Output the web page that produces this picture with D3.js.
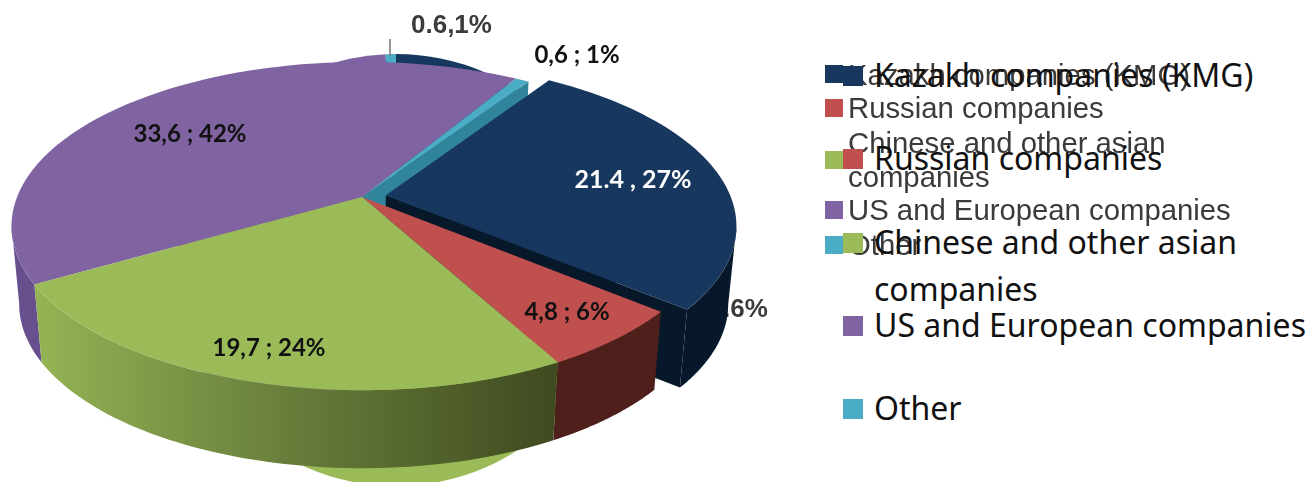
<!DOCTYPE html>
<html>
<head>
  <title>Oil production by company group</title>
  <style>
    html, body { margin: 0; background: #fff; }
    svg { display: block; }
    .lbl { font-family: Lato, sans-serif; font-weight: 700; font-size: 24px; fill: #111; text-anchor: middle; }
    .old { font-family: "Liberation Sans", sans-serif; fill: #3a3a3a; filter: url(#soft); }
    .leg { font-family: "Noto Sans", sans-serif; font-size: 32px; fill: #111; }
  </style>
</head>
<body>
  <svg id="chart" width="1310" height="482"></svg>

  <script src="https://d3js.org/d3.v7.min.js"></script>
  <script>
    // data
    const categories = ["Kazakh companies (KMG)", "Russian companies", "Chinese and other asian companies", "US and European companies", "Other"];
    const values = [21.4, 4.8, 19.7, 33.6, 0.6];
    const sliceLabels = ["21.4 , 27%", "4,8 ; 6%", "19,7 ; 24%", "33,6 ; 42%", "0,6 ; 1%"];
    const topColors = ["#17375e", "#c0504d", "#9bbb59", "#8064a2", "#4bacc6"];
    const wallColors = ["#08182b", "#4f1f1c", "#5f7535", "#68508f", "#31859b"];
    const oldLegendLines = ["Kazakh companies (KMG)", "Russian companies", "Chinese and other asian", "companies", "US and European companies", "Other"];
    const newLegendLines = [["Kazakh companies (KMG)"], ["Russian companies"], ["Chinese and other asian", "companies"], ["US and European companies"], ["Other"]];

    const svg = d3.select("#chart");
    const defs = svg.append("defs");
    defs.append("filter").attr("id", "soft").append("feGaussianBlur").attr("stdDeviation", 0.7);

    // green wall goes dark toward the right
    const grad = defs.append("linearGradient").attr("id", "greenWall")
      .attr("gradientUnits", "userSpaceOnUse").attr("x1", 40).attr("x2", 556).attr("y1", 0).attr("y2", 0);
    grad.append("stop").attr("offset", 0).attr("stop-color", "#93b354");
    grad.append("stop").attr("offset", 0.4).attr("stop-color", "#6f863f");
    grad.append("stop").attr("offset", 1).attr("stop-color", "#3f4a20");

    // pie angles, navy slice starts about 33 degrees past the top
    const pie = d3.pie().sort(null).startAngle(0.587).endAngle(0.587 + 2 * Math.PI);
    const arcs = pie(values);

    // perspective tilt of the disc
    const cx = 362, cy = 197, rx = 345, ry = 159, k = 0.177;
    const depth = 78, shrink = 0.978, explode = 0.07;

    function project(angle, radius, i) {
      let u = radius * Math.sin(angle), v = -radius * Math.cos(angle);
      if (i === 0) { u += explode * 0.988; v -= explode * 0.156; }
      const w = 1 - k * v;
      return [cx + rx * u / w, cy + ry * v / w];
    }
    const drop = p => [cx + (p[0] - cx) * shrink, p[1] + depth];
    const line = d3.line();
    const rimAngles = (a, b) => d3.range(0, 61).map(t => a + (b - a) * t / 60);

    function topPath(d, i) {
      const pts = rimAngles(d.startAngle, d.endAngle).map(a => project(a, 1, i));
      return line([project(0, 0, i), ...pts]) + "Z";
    }
    function rimWall(a, b, i) {
      const pts = rimAngles(a, b).map(t => project(t, 1, i));
      return line([...pts, ...pts.slice().reverse().map(drop)]) + "Z";
    }
    function cutWall(angle, i) {
      const a = project(0, 0, i), b = project(angle, 1, i);
      return line([a, b, drop(b), drop(a)]) + "Z";
    }
    // outline of a wall stops where the rim turns back, at the far left and far right
    function turnAngle(d, i, sign) {
      const ang = rimAngles(d.startAngle, d.endAngle);
      return ang[d3.greatestIndex(ang, a => sign * project(a, 1, i)[0])];
    }

    // old chart peeking out behind the new one
    const oldG = svg.append("g").attr("filter", "url(#soft)");
    const oldPie = d3.pie().sort(null)(values);
    const oldArc = d3.arc().innerRadius(0).outerRadius(1);
    oldG.selectAll("path").data(oldPie).enter().append("path")
      .attr("transform", "translate(396,270) scale(220,216)")
      .attr("d", oldArc)
      .attr("fill", (d, i) => topColors[i]);
    svg.append("line").attr("x1", 390).attr("x2", 390).attr("y1", 39).attr("y2", 56)
      .attr("stroke", "#777").attr("stroke-width", 1.5);
    svg.append("text").attr("class", "old").attr("x", 411).attr("y", 33)
      .style("font-size", "26px").style("font-weight", 700).text("0.6,1%");
    svg.append("text").attr("class", "old").attr("x", 723).attr("y", 317)
      .style("font-size", "26px").style("font-weight", 700).text(".6%");

    // back to front so the near walls hide the far ones
    const g = svg.append("g");
    // purple outer wall on the left edge
    g.append("path").attr("d", rimWall(arcs[3].startAngle, turnAngle(arcs[3], 3, -1), 3)).attr("fill", wallColors[3]);
    g.append("path").attr("d", topPath(arcs[3], 3)).attr("fill", topColors[3]);
    // other slice, cut face shows next to the exploded navy slice
    g.append("path").attr("d", cutWall(arcs[4].endAngle, 4)).attr("fill", wallColors[4]);
    g.append("path").attr("d", topPath(arcs[4], 4)).attr("fill", topColors[4]);
    // navy
    g.append("path").attr("d", cutWall(arcs[0].endAngle, 0)).attr("fill", wallColors[0]);
    g.append("path").attr("d", rimWall(turnAngle(arcs[0], 0, 1), arcs[0].endAngle, 0)).attr("fill", wallColors[0]);
    g.append("path").attr("d", topPath(arcs[0], 0)).attr("fill", topColors[0]);
    // red and green last
    g.append("path").attr("d", rimWall(arcs[1].startAngle, arcs[1].endAngle, 1)).attr("fill", wallColors[1]);
    g.append("path").attr("d", rimWall(arcs[2].startAngle, arcs[2].endAngle, 2)).attr("fill", "url(#greenWall)");
    g.append("path").attr("d", topPath(arcs[1], 1)).attr("fill", topColors[1]);
    g.append("path").attr("d", topPath(arcs[2], 2)).attr("fill", topColors[2]);

    // slice labels
    const labelPos = [[633, 180], [567, 312], [269, 348], [190, 134], [577, 55]];
    svg.selectAll(".lbl").data(sliceLabels).enter().append("text")
      .attr("class", "lbl")
      .attr("x", (d, i) => labelPos[i][0])
      .attr("y", (d, i) => labelPos[i][1] + 8)
      .style("fill", (d, i) => i === 0 ? "#fff" : "#111")
      .style("font-size", (d, i) => i === 0 ? "25px" : null)
      .text(d => d);

    // old blurry legend
    const oldRows = [74, 108, 160, 210, 245];
    svg.selectAll(".oldKey").data(oldRows).enter().append("rect")
      .attr("class", "oldKey")
      .attr("x", 825).attr("y", d => d - 9).attr("width", 18).attr("height", 18)
      .attr("fill", (d, i) => topColors[i]).attr("filter", "url(#soft)");
    const oldLineY = [76, 109, 144, 178, 211, 246];
    svg.selectAll(".oldTxt").data(oldLegendLines).enter().append("text")
      .attr("class", "old oldTxt")
      .attr("x", 848).attr("y", (d, i) => oldLineY[i] + 9)
      .style("font-size", "29.3px")
      .text(d => d);

    // new legend on top
    const newRows = [76, 159, 243, 326, 409];
    const leg = svg.selectAll(".legRow").data(newLegendLines).enter().append("g")
      .attr("class", "legRow")
      .attr("transform", (d, i) => `translate(843,${newRows[i]})`);
    leg.append("rect").attr("y", -10).attr("width", 20).attr("height", 20)
      .attr("fill", (d, i) => topColors[i]);
    leg.selectAll("text").data(d => d).enter().append("text")
      .attr("class", "leg")
      .attr("x", 31)
      .attr("y", (d, i) => 11 + i * 47)
      .text(d => d);
  </script>
</body>
</html>
